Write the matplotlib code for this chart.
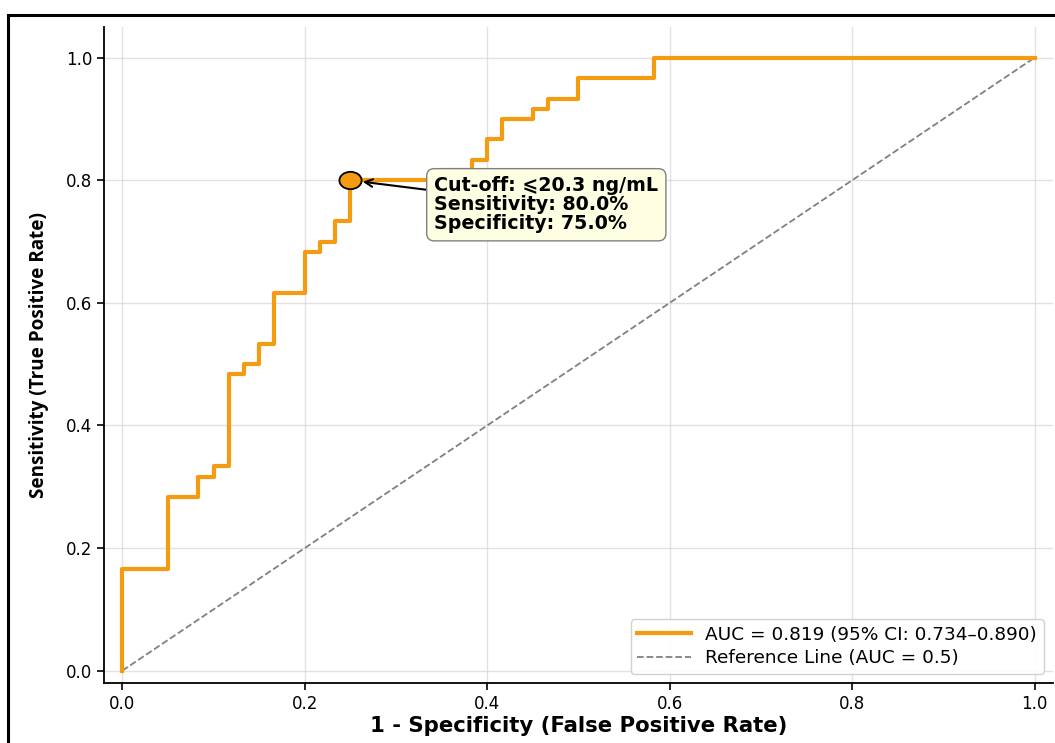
import matplotlib
matplotlib.use('Agg')
import matplotlib.pyplot as plt
from matplotlib.patches import Rectangle
from matplotlib.path import Path
from matplotlib.transforms import Affine2D

# ROC curve corner points
fpr = [0.0, 0.0, 0.05, 0.05, 0.0833, 0.0833, 0.1, 0.1, 0.1167, 0.1167,
       0.1333, 0.1333, 0.15, 0.15, 0.1667, 0.1667, 0.2, 0.2, 0.2167, 0.2167,
       0.2333, 0.2333, 0.25, 0.25, 0.35, 0.35, 0.3833, 0.3833, 0.4, 0.4,
       0.4167, 0.4167, 0.45, 0.45, 0.4667, 0.4667, 0.5, 0.5, 0.5833, 0.5833, 1.0]
tpr = [0.0, 0.1667, 0.1667, 0.2833, 0.2833, 0.3167, 0.3167, 0.3333, 0.3333, 0.4833,
       0.4833, 0.5, 0.5, 0.5333, 0.5333, 0.6167, 0.6167, 0.6833, 0.6833, 0.7,
       0.7, 0.7333, 0.7333, 0.8, 0.8, 0.8167, 0.8167, 0.8333, 0.8333, 0.8667,
       0.8667, 0.9, 0.9, 0.9167, 0.9167, 0.9333, 0.9333, 0.9667, 0.9667, 1.0, 1.0]

cutoff_fpr = 0.25
cutoff_tpr = 0.80
auc_label = 'AUC = 0.819 (95% CI: 0.734–0.890)'
ref_label = 'Reference Line (AUC = 0.5)'
cutoff_text = 'Cut-off: ⩽20.3 ng/mL\nSensitivity: 80.0%\nSpecificity: 75.0%'

# the reference looks stretched sideways, so use a wide font for horizontal text
plt.rcParams['font.family'] = ['DejaVu Sans']

fig = plt.figure(figsize=(10.55, 7.43), dpi=100)
ax = fig.add_axes([0.0986, 0.0808, 0.8994, 0.8829])

ax.plot(fpr, tpr, color='#f39c12', lw=3.0, label=auc_label, zorder=3)
ax.plot([0, 1], [0, 1], color='gray', lw=1.3, ls='--', label=ref_label, zorder=2)

# slightly wide ellipse marker for the cut-off point
oval = Path.unit_circle().transformed(Affine2D().scale(1.28, 1.0))
ax.plot(cutoff_fpr, cutoff_tpr, marker=oval, ms=16, ls='none', color='#f39c12',
        mec='black', mew=1.3, zorder=5)

ax.annotate(cutoff_text, xy=(cutoff_fpr, cutoff_tpr), xytext=(0.342, 0.760),
            fontsize=13.7, fontweight='bold', va='center', ha='left', linespacing=1.0,
            bbox=dict(boxstyle='round,pad=0.4', fc='#fefee2', ec='gray', lw=1),
            arrowprops=dict(arrowstyle='->', color='black', lw=1.5, shrinkA=0, shrinkB=9))

ax.set_xlim(-0.02, 1.02)
ax.set_ylim(-0.02, 1.05)
ax.set_xticks([0, 0.2, 0.4, 0.6, 0.8, 1.0])
ax.set_yticks([0, 0.2, 0.4, 0.6, 0.8, 1.0])
ax.tick_params(labelsize=12, width=1.2, length=5)
ax.grid(True, color='#d0d0d0', alpha=0.6, lw=1)
ax.spines['top'].set_visible(False)
ax.spines['right'].set_visible(False)
ax.spines['left'].set_linewidth(1.3)
ax.spines['bottom'].set_linewidth(1.3)

ax.set_xlabel('1 - Specificity (False Positive Rate)', fontsize=15.3, fontweight='bold', labelpad=2)
ax.set_ylabel('Sensitivity (True Positive Rate)', fontsize=13.6, fontweight='bold',
              family=['Open Sans', 'DejaVu Sans'], labelpad=12)

ax.legend(loc='lower right', fontsize=13.3, frameon=True, framealpha=0.9,
          edgecolor='#cccccc', handlelength=2.9, borderpad=0.35, labelspacing=0.3)

# figure border (cut off at the right and bottom in the reference)
fig.add_artist(Rectangle((8 / 1055, -0.05), 1.2, 1 - 15 / 743 + 0.05, transform=fig.transFigure,
                         fill=False, ec='black', lw=2.2))

fig.savefig('out.png', dpi=100)
